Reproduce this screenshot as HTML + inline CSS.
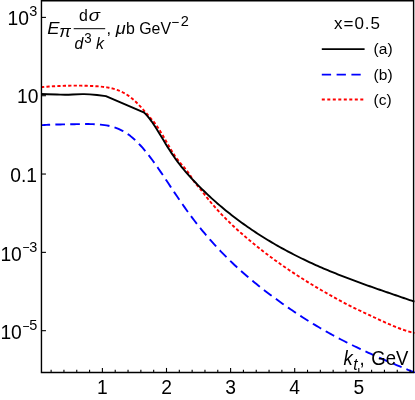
<!DOCTYPE html>
<html><head><meta charset="utf-8"><title>plot</title>
<style>
html,body{margin:0;padding:0;background:#fff;}
body{width:415px;height:400px;overflow:hidden;}
svg{display:block;font-family:"Liberation Sans",sans-serif;will-change:transform;}
</style></head><body>
<svg width="415" height="400" viewBox="0 0 415 400">
<rect width="415" height="400" fill="#fff"/>
<defs><clipPath id="cp"><rect x="41.45" y="0" width="380" height="373.15"/></clipPath></defs>
<g clip-path="url(#cp)" fill="none" stroke-linejoin="round">
<path d="M40.50 125.24 L42.50 125.12 L44.50 125.00 L46.50 124.90 L48.50 124.81 L50.50 124.73 L52.50 124.65 L54.50 124.59 L56.50 124.53 L58.50 124.48 L60.50 124.43 L62.50 124.38 L64.50 124.34 L66.50 124.31 L68.50 124.27 L70.50 124.24 L72.50 124.21 L74.50 124.18 L76.50 124.15 L78.50 124.12 L80.50 124.09 L82.50 124.07 L84.50 124.06 L86.50 124.05 L88.50 124.06 L90.50 124.09 L92.50 124.14 L94.50 124.22 L96.50 124.32 L98.50 124.45 L100.50 124.62 L102.50 124.83 L104.50 125.09 L106.50 125.41 L108.50 125.79 L110.50 126.24 L112.50 126.77 L114.50 127.39 L116.50 128.09 L118.50 128.89 L120.50 129.80 L122.50 130.81 L124.50 131.95 L126.50 133.21 L128.50 134.60 L130.50 136.11 L132.50 137.76 L134.50 139.52 L136.50 141.40 L138.50 143.40 L140.50 145.51 L142.50 147.72 L144.50 150.04 L146.50 152.45 L148.50 154.96 L150.50 157.57 L152.50 160.25 L154.50 163.00 L156.50 165.83 L158.50 168.70 L160.50 171.62 L162.50 174.58 L164.50 177.57 L166.50 180.58 L168.50 183.60 L170.50 186.61 L172.50 189.62 L174.50 192.62 L176.50 195.59 L178.50 198.53 L180.50 201.45 L182.50 204.33 L184.50 207.17 L186.50 209.97 L188.50 212.73 L190.50 215.45 L192.50 218.12 L194.50 220.75 L196.50 223.33 L198.50 225.87 L200.50 228.36 L202.50 230.81 L204.50 233.22 L206.50 235.59 L208.50 237.92 L210.50 240.21 L212.50 242.46 L214.50 244.67 L216.50 246.84 L218.50 248.98 L220.50 251.08 L222.50 253.15 L224.50 255.19 L226.50 257.20 L228.50 259.18 L230.50 261.13 L232.50 263.05 L234.50 264.94 L236.50 266.81 L238.50 268.65 L240.50 270.46 L242.50 272.25 L244.50 274.01 L246.50 275.75 L248.50 277.46 L250.50 279.15 L252.50 280.82 L254.50 282.47 L256.50 284.09 L258.50 285.69 L260.50 287.27 L262.50 288.83 L264.50 290.38 L266.50 291.91 L268.50 293.42 L270.50 294.92 L272.50 296.41 L274.50 297.88 L276.50 299.34 L278.50 300.79 L280.50 302.23 L282.50 303.65 L284.50 305.07 L286.50 306.46 L288.50 307.85 L290.50 309.22 L292.50 310.58 L294.50 311.93 L296.50 313.26 L298.50 314.58 L300.50 315.89 L302.50 317.18 L304.50 318.46 L306.50 319.73 L308.50 320.98 L310.50 322.22 L312.50 323.45 L314.50 324.66 L316.50 325.86 L318.50 327.05 L320.50 328.22 L322.50 329.38 L324.50 330.52 L326.50 331.65 L328.50 332.77 L330.50 333.88 L332.50 334.97 L334.50 336.05 L336.50 337.12 L338.50 338.17 L340.50 339.22 L342.50 340.25 L344.50 341.28 L346.50 342.29 L348.50 343.29 L350.50 344.29 L352.50 345.27 L354.50 346.24 L356.50 347.21 L358.50 348.16 L360.50 349.11 L362.50 350.05 L364.50 350.98 L366.50 351.91 L368.50 352.82 L370.50 353.73 L372.50 354.64 L374.50 355.53 L376.50 356.42 L378.50 357.31 L380.50 358.18 L382.50 359.06 L384.50 359.93 L386.50 360.79 L388.50 361.65 L390.50 362.50 L392.50 363.35 L394.50 364.20 L396.50 365.04 L398.50 365.89 L400.50 366.72 L402.50 367.56 L404.50 368.39 L406.50 369.22 L408.50 370.05 L410.50 370.88 L412.50 371.71 L414.50 372.54 L415.00 372.74" stroke="#0000ff" stroke-width="1.9" stroke-dasharray="9.65 5.22"/>
<path d="M41.00 87.14 L43.00 86.98 L45.00 86.82 L47.00 86.68 L49.00 86.54 L51.00 86.41 L53.00 86.30 L55.00 86.19 L57.00 86.09 L59.00 86.01 L61.00 85.93 L63.00 85.86 L65.00 85.80 L67.00 85.75 L69.00 85.71 L71.00 85.67 L73.00 85.65 L75.00 85.64 L77.00 85.64 L79.00 85.65 L81.00 85.67 L83.00 85.70 L85.00 85.74 L87.00 85.80 L89.00 85.87 L91.00 85.96 L93.00 86.05 L95.00 86.17 L97.00 86.29 L99.00 86.44 L101.00 86.61 L103.00 86.82 L105.00 87.07 L107.00 87.37 L109.00 87.73 L111.00 88.15 L113.00 88.64 L115.00 89.22 L117.00 89.88 L119.00 90.64 L121.00 91.50 L123.00 92.48 L125.00 93.57 L127.00 94.79 L129.00 96.14 L131.00 97.63 L133.00 99.28 L135.00 101.07 L137.00 103.00 L139.00 105.04 L141.00 107.18 L143.00 109.40 L145.00 111.67 L147.00 113.98 L149.00 116.31 L151.00 118.63 L153.00 120.98 L155.00 123.46 L157.00 126.19 L159.00 129.18 L161.00 132.40 L163.00 135.78 L165.00 139.25 L167.00 142.76 L169.00 146.24 L171.00 149.64 L173.00 152.89 L175.00 155.93 L177.00 158.73 L179.00 161.33 L181.00 163.79 L183.00 166.15 L185.00 168.49 L187.00 170.93 L189.00 173.60 L191.00 176.63 L193.00 180.01 L195.00 182.86 L197.00 185.23 L199.00 187.47 L201.00 189.89 L203.00 192.47 L205.00 195.08 L207.00 197.63 L209.00 200.12 L211.00 202.54 L213.00 204.90 L215.00 207.21 L217.00 209.45 L219.00 211.65 L221.00 213.80 L223.00 215.89 L225.00 217.95 L227.00 219.96 L229.00 221.92 L231.00 223.85 L233.00 225.75 L235.00 227.61 L237.00 229.43 L239.00 231.23 L241.00 233.00 L243.00 234.75 L245.00 236.48 L247.00 238.18 L249.00 239.87 L251.00 241.54 L253.00 243.18 L255.00 244.81 L257.00 246.43 L259.00 248.02 L261.00 249.59 L263.00 251.15 L265.00 252.69 L267.00 254.22 L269.00 255.73 L271.00 257.22 L273.00 258.69 L275.00 260.15 L277.00 261.59 L279.00 263.02 L281.00 264.44 L283.00 265.83 L285.00 267.22 L287.00 268.59 L289.00 269.94 L291.00 271.29 L293.00 272.61 L295.00 273.93 L297.00 275.23 L299.00 276.52 L301.00 277.80 L303.00 279.07 L305.00 280.32 L307.00 281.57 L309.00 282.80 L311.00 284.02 L313.00 285.23 L315.00 286.43 L317.00 287.62 L319.00 288.80 L321.00 289.97 L323.00 291.13 L325.00 292.28 L327.00 293.42 L329.00 294.56 L331.00 295.69 L333.00 296.80 L335.00 297.91 L337.00 299.01 L339.00 300.10 L341.00 301.18 L343.00 302.24 L345.00 303.29 L347.00 304.33 L349.00 305.36 L351.00 306.37 L353.00 307.36 L355.00 308.35 L357.00 309.31 L359.00 310.26 L361.00 311.20 L363.00 312.14 L365.00 313.07 L367.00 314.00 L369.00 314.93 L371.00 315.86 L373.00 316.80 L375.00 317.74 L377.00 318.67 L379.00 319.61 L381.00 320.54 L383.00 321.46 L385.00 322.37 L387.00 323.26 L389.00 324.15 L391.00 325.01 L393.00 325.86 L395.00 326.68 L397.00 327.48 L399.00 328.25 L401.00 329.00 L403.00 329.71 L405.00 330.39 L407.00 331.03 L409.00 331.64 L411.00 332.21 L413.00 332.73 L414.50 333.09" stroke="#ff0000" stroke-width="1.9" stroke-dasharray="3.25 2.196"/>
<path d="M41.00 94.00 Q54.50 94.35 60.30 94.60 Q66.10 94.85 72.60 94.47 Q79.10 94.10 84.05 94.17 Q89.00 94.25 97.00 94.95 L105.90 96.10 L143.70 112.40 L143.70 112.21 L145.70 114.12 L147.70 116.35 L149.70 118.84 L151.70 121.57 L153.70 124.48 L155.70 127.56 L157.70 130.74 L159.70 134.00 L161.70 137.30 L163.70 140.61 L165.70 143.89 L167.70 147.13 L169.70 150.30 L171.70 153.38 L173.70 156.34 L175.70 159.18 L177.70 161.90 L179.70 164.52 L181.70 167.04 L183.70 169.48 L185.70 171.84 L187.70 174.13 L189.70 176.35 L191.70 178.53 L193.70 180.66 L195.70 182.76 L197.70 184.82 L199.70 186.84 L201.70 188.84 L203.70 190.80 L205.70 192.73 L207.70 194.62 L209.70 196.49 L211.70 198.33 L213.70 200.14 L215.70 201.91 L217.70 203.67 L219.70 205.39 L221.70 207.08 L223.70 208.75 L225.70 210.40 L227.70 212.02 L229.70 213.61 L231.70 215.18 L233.70 216.73 L235.70 218.25 L237.70 219.76 L239.70 221.24 L241.70 222.70 L243.70 224.14 L245.70 225.56 L247.70 226.96 L249.70 228.34 L251.70 229.70 L253.70 231.05 L255.70 232.38 L257.70 233.68 L259.70 234.98 L261.70 236.25 L263.70 237.51 L265.70 238.75 L267.70 239.97 L269.70 241.18 L271.70 242.37 L273.70 243.55 L275.70 244.70 L277.70 245.85 L279.70 246.98 L281.70 248.09 L283.70 249.19 L285.70 250.28 L287.70 251.35 L289.70 252.41 L291.70 253.45 L293.70 254.48 L295.70 255.50 L297.70 256.50 L299.70 257.50 L301.70 258.48 L303.70 259.44 L305.70 260.40 L307.70 261.34 L309.70 262.28 L311.70 263.20 L313.70 264.11 L315.70 265.01 L317.70 265.90 L319.70 266.78 L321.70 267.65 L323.70 268.51 L325.70 269.36 L327.70 270.21 L329.70 271.04 L331.70 271.86 L333.70 272.68 L335.70 273.49 L337.70 274.29 L339.70 275.08 L341.70 275.87 L343.70 276.65 L345.70 277.42 L347.70 278.19 L349.70 278.95 L351.70 279.70 L353.70 280.45 L355.70 281.19 L357.70 281.92 L359.70 282.65 L361.70 283.38 L363.70 284.10 L365.70 284.82 L367.70 285.53 L369.70 286.24 L371.70 286.95 L373.70 287.65 L375.70 288.35 L377.70 289.05 L379.70 289.75 L381.70 290.44 L383.70 291.13 L385.70 291.82 L387.70 292.50 L389.70 293.19 L391.70 293.88 L393.70 294.56 L395.70 295.24 L397.70 295.93 L399.70 296.61 L401.70 297.29 L403.70 297.98 L405.70 298.66 L407.70 299.35 L409.70 300.03 L411.70 300.72 L413.70 301.41 L414.50 301.69" stroke="#000" stroke-width="1.9"/>
</g>
<g stroke="#000" stroke-width="1.4" fill="none">
<path d="M41.45 0V372.45H413.6V0"/>
<path d="M41.45 0.6H413.6" stroke-width="1.8"/>
</g>
<g stroke="#000" stroke-width="1.1" fill="none"><line x1="51.12" y1="372.45" x2="51.12" y2="369.75"/><line x1="63.94" y1="372.45" x2="63.94" y2="369.75"/><line x1="76.76" y1="372.45" x2="76.76" y2="369.75"/><line x1="89.58" y1="372.45" x2="89.58" y2="369.75"/><line x1="102.40" y1="372.45" x2="102.40" y2="367.95"/><line x1="115.22" y1="372.45" x2="115.22" y2="369.75"/><line x1="128.04" y1="372.45" x2="128.04" y2="369.75"/><line x1="140.86" y1="372.45" x2="140.86" y2="369.75"/><line x1="153.68" y1="372.45" x2="153.68" y2="369.75"/><line x1="166.50" y1="372.45" x2="166.50" y2="367.95"/><line x1="179.32" y1="372.45" x2="179.32" y2="369.75"/><line x1="192.14" y1="372.45" x2="192.14" y2="369.75"/><line x1="204.96" y1="372.45" x2="204.96" y2="369.75"/><line x1="217.78" y1="372.45" x2="217.78" y2="369.75"/><line x1="230.60" y1="372.45" x2="230.60" y2="367.95"/><line x1="243.42" y1="372.45" x2="243.42" y2="369.75"/><line x1="256.24" y1="372.45" x2="256.24" y2="369.75"/><line x1="269.06" y1="372.45" x2="269.06" y2="369.75"/><line x1="281.88" y1="372.45" x2="281.88" y2="369.75"/><line x1="294.70" y1="372.45" x2="294.70" y2="367.95"/><line x1="307.52" y1="372.45" x2="307.52" y2="369.75"/><line x1="320.34" y1="372.45" x2="320.34" y2="369.75"/><line x1="333.16" y1="372.45" x2="333.16" y2="369.75"/><line x1="345.98" y1="372.45" x2="345.98" y2="369.75"/><line x1="358.80" y1="372.45" x2="358.80" y2="367.95"/><line x1="371.62" y1="372.45" x2="371.62" y2="369.75"/><line x1="384.44" y1="372.45" x2="384.44" y2="369.75"/><line x1="397.26" y1="372.45" x2="397.26" y2="369.75"/><line x1="410.08" y1="372.45" x2="410.08" y2="369.75"/><line x1="41.45" y1="17.40" x2="45.95" y2="17.40"/><line x1="41.45" y1="95.72" x2="45.95" y2="95.72"/><line x1="41.45" y1="174.04" x2="45.95" y2="174.04"/><line x1="41.45" y1="252.36" x2="45.95" y2="252.36"/><line x1="41.45" y1="330.68" x2="45.95" y2="330.68"/></g>
<g font-size="20.5" fill="#000">
<text transform="translate(102.40 394.1) scale(0.940 1)" text-anchor="middle">1</text><text transform="translate(166.50 394.1) scale(0.940 1)" text-anchor="middle">2</text><text transform="translate(230.60 394.1) scale(0.940 1)" text-anchor="middle">3</text><text transform="translate(294.70 394.1) scale(0.940 1)" text-anchor="middle">4</text><text transform="translate(358.80 394.1) scale(0.940 1)" text-anchor="middle">5</text>
<text transform="translate(7.60 25.40) scale(0.940 1)">10<tspan font-size="15.4" dy="-9.2" dx="0.3">3</tspan></text><text transform="translate(17.00 103.40) scale(0.940 1)">10</text><text transform="translate(10.30 181.70) scale(0.940 1)">0.1</text><text transform="translate(0.40 260.90) scale(0.940 1)">10<tspan font-size="13" dy="-8.6" dx="0.6">−</tspan><tspan font-size="15.4" dy="-0.6" dx="-0.4">3</tspan></text><text transform="translate(0.40 339.20) scale(0.940 1)">10<tspan font-size="13" dy="-8.6" dx="0.6">−</tspan><tspan font-size="15.4" dy="-0.6" dx="-0.4">5</tspan></text>
</g>
<!-- y label -->
<g font-size="16.4" fill="#000">
<text transform="translate(47.3 33.9) scale(1.12 1)" font-style="italic">E</text>
<text transform="translate(59.3 37.2) scale(1.02 1)" font-style="italic" font-size="17">π</text>
<line x1="73.7" y1="28.7" x2="105.2" y2="28.7" stroke="#000" stroke-width="1"/>
<text transform="translate(79 21) scale(0.97 1)">d</text>
<text transform="translate(88.7 21) scale(1.1 1)" font-style="italic" font-size="17">σ</text>
<text transform="translate(74.4 49) scale(0.97 1)" font-style="italic">d</text>
<text transform="translate(84.2 42.7) scale(0.95 1)" font-size="14">3</text>
<text transform="translate(96.1 49) scale(0.97 1)" font-style="italic">k</text>
<text transform="translate(106.5 33.9)">,</text>
<text transform="translate(115.8 33.9) scale(1.1 1)" font-style="italic">μ</text>
<text transform="translate(126 33.9) scale(0.97 1)">b GeV<tspan font-size="14" dy="-6.5" dx="0.3">−</tspan><tspan font-size="15" dy="-1.2" dx="1.4">2</tspan></text>
</g>
<!-- x label -->
<g font-size="19.5" fill="#000">
<text transform="translate(343.4 365.3) scale(0.95 1)" font-style="italic">k<tspan font-size="16.5" dy="4.6" dx="0.5">t</tspan></text>
<text transform="translate(359.6 365.3) scale(0.95 1)">,</text>
<text transform="translate(371.3 365.3) scale(0.95 1)">GeV</text>
</g>
<!-- legend -->
<text x="334" y="29.1" font-size="17" fill="#000" textLength="46" lengthAdjust="spacing">x=0.5</text>
<g fill="none" stroke-width="1.8">
<line x1="321.8" y1="49.1" x2="364.6" y2="49.1" stroke="#000"/>
<line x1="321.8" y1="74.6" x2="364.6" y2="74.6" stroke="#0000ff" stroke-dasharray="9.3 5.5"/>
<line x1="321.8" y1="99.5" x2="364.6" y2="99.5" stroke="#ff0000" stroke-dasharray="3 2.5"/>
</g>
<g font-size="15.5" fill="#000">
<text x="373.6" y="54.3">(a)</text>
<text x="373.6" y="79.8">(b)</text>
<text x="373.6" y="104.8">(c)</text>
</g>
</svg>
</body></html>
